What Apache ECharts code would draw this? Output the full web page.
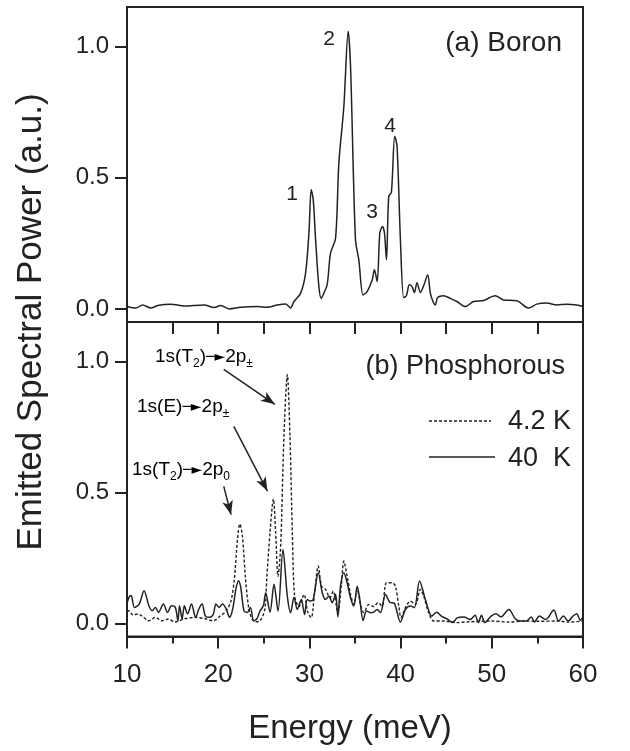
<!DOCTYPE html>
<html>
<head>
<meta charset="utf-8">
<script src="https://cdn.jsdelivr.net/npm/echarts@6/dist/echarts.min.js"></script>
<style>
  html, body { margin: 0; padding: 0; background: #fff; }
  #chart { width: 630px; height: 751px; }
</style>
</head>
<body>
<div id="chart"></div>
<script>
// (a) Boron spectrum
const boronEnergy = [10.00, 10.98, 11.71, 12.63, 13.36, 14.81, 16.27, 18.46, 19.55, 20.28, 21.20, 22.47, 24.30, 25.39, 26.48, 27.40, 27.94,
  28.31, 29.04, 29.58, 29.95, 30.20, 30.42, 30.68, 31.04, 31.30, 31.59, 31.95, 32.32, 32.87, 33.23, 33.78, 34.25, 34.51,
  35.05, 35.42, 35.89, 36.33, 36.88, 37.13, 37.43, 37.72, 38.01, 38.23, 38.45, 38.70, 38.99, 39.36, 39.61, 39.98, 40.34,
  40.63, 40.96, 41.25, 41.51, 41.80, 42.17, 42.53, 42.97, 43.26, 43.55, 43.81, 44.06, 44.72, 45.45, 46.18, 47.09, 48.00,
  49.10, 50.37, 51.28, 52.74, 54.02, 54.93, 56.02, 57.12, 58.21, 59.31, 60.00];
const boronPower = [0.009, 0.003, 0.015, 0.003, 0.013, 0.018, 0.011, 0.015, 0.005, 0.013, 0.000, 0.006, 0.009, 0.006, 0.015, 0.019, 0.003,
  0.028, 0.060, 0.136, 0.289, 0.454, 0.416, 0.263, 0.085, 0.040, 0.060, 0.092, 0.212, 0.270, 0.556, 0.772, 1.058, 0.925,
  0.263, 0.187, 0.053, 0.066, 0.110, 0.149, 0.104, 0.289, 0.314, 0.289, 0.187, 0.429, 0.444, 0.658, 0.620, 0.263, 0.043,
  0.050, 0.092, 0.085, 0.062, 0.100, 0.062, 0.088, 0.130, 0.060, 0.028, 0.015, 0.043, 0.050, 0.040, 0.028, 0.009, 0.028,
  0.032, 0.050, 0.034, 0.031, 0.003, 0.018, 0.022, 0.015, 0.018, 0.015, 0.009];

// (b) Phosphorous, 4.2 K (dashed)
const phosColdEnergy = [10.00, 10.21, 10.64, 11.17, 11.70, 12.40, 13.11, 13.82, 14.52, 15.23, 16.29, 17.35, 18.41, 19.47, 20.18, 20.88,
  21.41, 21.77, 22.12, 22.37, 22.65, 23.00, 23.36, 23.71, 24.06, 24.59, 25.12, 25.32, 25.68, 26.05, 26.30, 26.56, 26.85,
  27.21, 27.58, 27.87, 28.13, 28.38, 28.85, 29.40, 29.84, 30.20, 30.57, 30.97, 31.33, 31.77, 32.25, 32.61, 33.12, 33.49,
  33.78, 34.14, 34.51, 34.87, 35.24, 35.60, 35.97, 36.51, 37.06, 37.50, 37.97, 38.45, 39.07, 39.43, 39.80, 40.05, 40.53,
  41.07, 41.62, 42.17, 42.53, 43.08, 43.63, 44.72, 46.18, 47.50, 49.82, 52.00, 53.47, 55.00, 57.12, 58.50, 60.00];
const phosColdPower = [0.045, 0.048, 0.032, 0.036, 0.027, 0.010, 0.023, 0.010, 0.017, 0.006, 0.017, 0.023, 0.019, 0.010, 0.027, 0.048,
  0.087, 0.169, 0.322, 0.379, 0.335, 0.169, 0.055, 0.017, 0.006, 0.010, 0.055, 0.168, 0.346, 0.475, 0.346, 0.180, 0.295,
  0.714, 0.949, 0.714, 0.346, 0.104, 0.064, 0.110, 0.041, 0.022, 0.117, 0.219, 0.142, 0.130, 0.098, 0.123, 0.041, 0.142,
  0.238, 0.180, 0.111, 0.072, 0.130, 0.072, 0.041, 0.072, 0.064, 0.079, 0.066, 0.155, 0.155, 0.142, 0.066, 0.022, 0.060,
  0.085, 0.072, 0.130, 0.104, 0.041, 0.009, 0.009, 0.003, 0.006, 0.009, 0.005, 0.009, 0.008, 0.009, 0.005, 0.009];

// (b) Phosphorous, 40 K (solid)
const phosWarmEnergy = [10.00, 10.21, 10.46, 10.81, 11.34, 11.87, 12.40, 12.76, 13.11, 13.46, 13.99, 14.45, 14.88, 15.30, 15.58, 15.76,
  16.04, 16.29, 16.64, 17.07, 17.53, 17.88, 18.23, 18.59, 19.05, 19.47, 19.75, 20.11, 20.46, 20.88, 21.24, 21.59, 21.94,
  22.23, 22.47, 22.83, 23.18, 23.53, 23.89, 24.24, 24.59, 24.95, 25.21, 25.68, 26.12, 26.56, 27.10, 27.58, 27.94, 28.31,
  28.67, 29.11, 29.47, 29.77, 30.13, 30.42, 30.97, 31.41, 31.77, 32.14, 32.50, 32.87, 33.12, 33.41, 33.78, 34.14, 34.51,
  34.87, 35.24, 35.53, 35.89, 36.26, 36.70, 37.06, 37.43, 37.79, 38.34, 38.81, 39.32, 39.98, 40.53, 41.07, 41.51, 42.08,
  42.71, 43.42, 43.94, 44.47, 45.18, 45.70, 46.23, 46.94, 47.64, 48.17, 48.52, 48.87, 49.23, 49.93, 50.46, 50.99, 51.87,
  52.57, 53.10, 53.80, 54.33, 54.68, 55.21, 55.92, 56.80, 57.32, 57.85, 58.38, 58.91, 59.31, 59.70, 60.00];
const phosWarmPower = [0.075, 0.099, 0.106, 0.061, 0.074, 0.125, 0.067, 0.048, 0.061, 0.042, 0.074, 0.042, 0.067, 0.061, 0.010, 0.067,
  0.017, 0.067, 0.036, 0.074, 0.023, 0.055, 0.074, 0.029, 0.023, 0.036, 0.074, 0.061, 0.074, 0.055, 0.023, 0.055, 0.131,
  0.163, 0.137, 0.048, 0.042, 0.061, 0.010, 0.017, 0.048, 0.067, 0.117, 0.043, 0.149, 0.047, 0.282, 0.104, 0.041, 0.100,
  0.053, 0.091, 0.034, 0.091, 0.085, 0.091, 0.193, 0.117, 0.091, 0.104, 0.079, 0.111, 0.025, 0.142, 0.193, 0.155, 0.098,
  0.066, 0.142, 0.091, 0.011, 0.047, 0.041, 0.043, 0.053, 0.041, 0.111, 0.081, 0.076, 0.005, 0.053, 0.066, 0.060, 0.162,
  0.092, 0.028, 0.043, 0.028, 0.015, 0.003, 0.022, 0.024, 0.015, 0.031, 0.003, 0.031, 0.003, 0.028, 0.037, 0.025, 0.053,
  0.018, 0.009, 0.009, 0.024, 0.005, 0.028, 0.015, 0.051, 0.009, 0.028, 0.009, 0.028, 0.037, 0.012, 0.024];

const yTickValues = [0, 0.5, 1.0];
const seriesNames = ['4.2 K', '40  K'];

// arrow start / end in data space (energy, power)
const arrowStart = [[20.61, 0.969], [21.71, 0.752], [20.61, 0.523]];
const arrowEnd = [[26.21, 0.836], [25.40, 0.505], [21.41, 0.415]];

const ink = '#222';
const font = 'Liberation Sans, Arial, Helvetica, sans-serif';

const zip = (xs, ys) => xs.map((x, i) => [x, ys[i]]);

const chart = echarts.init(document.getElementById('chart'));

const xAxisBase = {
    type: 'value',
    min: 10,
    max: 60,
    splitLine: {show: false},
    axisLine: {onZero: false, lineStyle: {color: ink, width: 2}},
    axisTick: {length: 12, lineStyle: {color: ink, width: 2}}
};

const yAxisBase = {
    type: 'value',
    min: -0.05,
    max: 1.15,
    splitLine: {show: false},
    axisLine: {onZero: false, lineStyle: {color: ink, width: 2}},
    axisTick: {length: 12, customValues: yTickValues, lineStyle: {color: ink, width: 2}},
    axisLabel: {
        customValues: yTickValues,
        formatter: v => v.toFixed(1),
        fontSize: 24,
        fontFamily: font,
        color: ink,
        margin: 18
    }
};

const sub = {fontSize: 12, lineHeight: 12, verticalAlign: 'bottom', fontFamily: font, color: ink};
const normal = {fontSize: 19, lineHeight: 26, fontFamily: font, color: ink};
const arr = {fontSize: 14, lineHeight: 26, fontFamily: 'DejaVu Sans', color: ink};
const richStyle = {n: normal, s: sub, a: arr};

const annotation = (text, x, y) => ({
    type: 'text',
    x: x,
    y: y,
    style: {text: text, rich: richStyle, textVerticalAlign: 'middle', textAlign: 'left'}
});

const plainText = (text, x, y, size, align) => ({
    type: 'text',
    x: x,
    y: y,
    style: {text: text, fontSize: size, fontFamily: font, fill: ink, textAlign: align || 'center', textVerticalAlign: 'middle'}
});

const option = {
    animation: false,
    backgroundColor: '#fff',
    grid: [
        {left: 127, right: 47, top: 7, height: 315, show: true, borderColor: ink, borderWidth: 2},
        {left: 127, right: 47, top: 322, height: 314.5, show: true, borderColor: ink, borderWidth: 2}
    ],
    xAxis: [
        Object.assign({}, xAxisBase, {gridIndex: 0, interval: 5, axisLabel: {show: false}}),
        Object.assign({}, xAxisBase, {
            gridIndex: 1,
            interval: 10,
            minorTick: {show: true, splitNumber: 2, length: 7, lineStyle: {color: ink, width: 2}},
            axisLabel: {fontSize: 26, fontFamily: font, color: ink, margin: 25}
        })
    ],
    yAxis: [
        Object.assign({}, yAxisBase, {gridIndex: 0}),
        Object.assign({}, yAxisBase, {gridIndex: 1})
    ],
    series: [
        {
            name: 'Boron',
            type: 'line',
            xAxisIndex: 0,
            yAxisIndex: 0,
            data: zip(boronEnergy, boronPower),
            showSymbol: false,
            smooth: 0.3,
            lineStyle: {color: ink, width: 1.5}
        },
        {
            name: seriesNames[0],
            type: 'line',
            xAxisIndex: 1,
            yAxisIndex: 1,
            data: zip(phosColdEnergy, phosColdPower),
            showSymbol: false,
            smooth: 0.3,
            lineStyle: {color: ink, width: 1.4, type: [3, 2]},
            markLine: {
                silent: true,
                symbol: ['none', 'arrow'],
                symbolSize: [8, 14],
                label: {show: false},
                lineStyle: {color: ink, width: 1.5, type: 'solid'},
                data: arrowStart.map((s, i) => [{coord: s}, {coord: arrowEnd[i]}])
            }
        },
        {
            name: seriesNames[1],
            type: 'line',
            xAxisIndex: 1,
            yAxisIndex: 1,
            data: zip(phosWarmEnergy, phosWarmPower),
            showSymbol: false,
            smooth: 0.3,
            lineStyle: {color: ink, width: 1.5}
        }
    ],
    graphic: [
        plainText('(a) Boron', 562, 43, 28, 'right'),
        plainText('(b) Phosphorous', 565, 367, 27, 'right'),
        plainText('1', 292, 194, 21),
        plainText('2', 329, 39, 21),
        plainText('3', 372, 212, 21),
        plainText('4', 390, 126, 21),
        annotation('{n|1s(T}{s|2}{n|)}{a|─►}{n|2p}{s|±}', 155, 357),
        annotation('{n|1s(E)}{a|─►}{n|2p}{s|±}', 137, 407),
        annotation('{n|1s(T}{s|2}{n|)}{a|─►}{n|2p}{s|0}', 132, 470),
        {type: 'line', shape: {x1: 429, y1: 421, x2: 491, y2: 421}, style: {stroke: ink, lineWidth: 1.3, lineDash: [3, 2]}},
        {type: 'line', shape: {x1: 429, y1: 457, x2: 495, y2: 457}, style: {stroke: ink, lineWidth: 1.4}},
        plainText(seriesNames[0], 508, 422, 27, 'left'),
        plainText(seriesNames[1], 508, 459, 27, 'left'),
        plainText('Energy (meV)', 350, 729, 33),
        {
            type: 'text',
            x: 31,
            y: 322,
            rotation: Math.PI / 2,
            style: {text: 'Emitted Spectral Power (a.u.)', fontSize: 35, fontFamily: font, fill: ink, textAlign: 'center', textVerticalAlign: 'middle'}
        }
    ]
};

chart.setOption(option);
window.addEventListener('resize', function () {
    chart.resize();
});
</script>
</body>
</html>
